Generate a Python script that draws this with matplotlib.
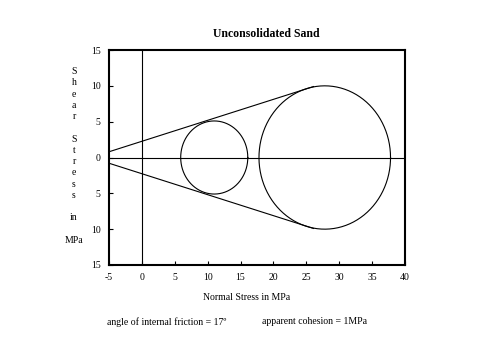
import numpy as np
import matplotlib
matplotlib.use('Agg')
import matplotlib.pyplot as plt

plt.rcParams['font.family'] = ['Liberation Serif', 'DejaVu Serif']
plt.rcParams['axes.unicode_minus'] = False

# Mohr circles (normal stress centre, radius) in MPa
circle_centers = [11.0, 27.8]
circle_radii = [5.1, 10.0]

# failure envelope end points
envelope_sigma = [-5.0, 26.1]
envelope_tau = [0.8, 9.9]

x_ticks = [-5, 0, 5, 10, 15, 20, 25, 30, 35, 40]
y_ticks = [-15, -10, -5, 0, 5, 10, 15]
y_tick_labels = ['15', '10', '5', '0', '5', '10', '15']

fig = plt.figure(figsize=(4.8, 3.6), dpi=100)
ax = fig.add_axes([109/480, 1-265/360, 296/480, 215/360])

t = np.linspace(0, 2*np.pi, 400)
for c, r in zip(circle_centers, circle_radii):
    ax.plot(c + r*np.cos(t), r*np.sin(t), color='black', lw=0.8)

ax.plot(envelope_sigma, envelope_tau, color='black', lw=0.8)
ax.plot(envelope_sigma, [-v for v in envelope_tau], color='black', lw=0.8)

ax.axhline(0, color='black', lw=0.8)
ax.axvline(0, color='black', lw=0.8)

ax.set_xlim(-5, 40)
ax.set_ylim(-15, 15)
ax.set_xticks(x_ticks)
ax.set_yticks(y_ticks)
ax.set_yticklabels(y_tick_labels)
ax.tick_params(direction='in', length=3, width=0.8, labelsize=7, pad=6,
               top=False, right=False)
for s in ax.spines.values():
    s.set_linewidth(1.5)

fig.text(266/480, 1-34/360, 'Unconsolidated Sand', ha='center', va='center',
         fontsize=8.5, fontweight='bold')
fig.text(247/480, 1-297/360, 'Normal Stress in MPa', ha='center', va='center',
         fontsize=7)
ylab = 'S\nh\ne\na\nr\n\nS\nt\nr\ne\ns\ns\n\nin\n\nMPa'
fig.text(74/480, 1-156/360, ylab, ha='center', va='center', fontsize=7,
         linespacing=1.32, multialignment='center')
fig.text(107/480, 1-322/360, 'angle of internal friction = 17º', ha='left',
         va='center', fontsize=7)
fig.text(262/480, 1-322/360, 'apparent cohesion = 1MPa', ha='left',
         va='center', fontsize=7)

fig.savefig('out.png', dpi=100)
